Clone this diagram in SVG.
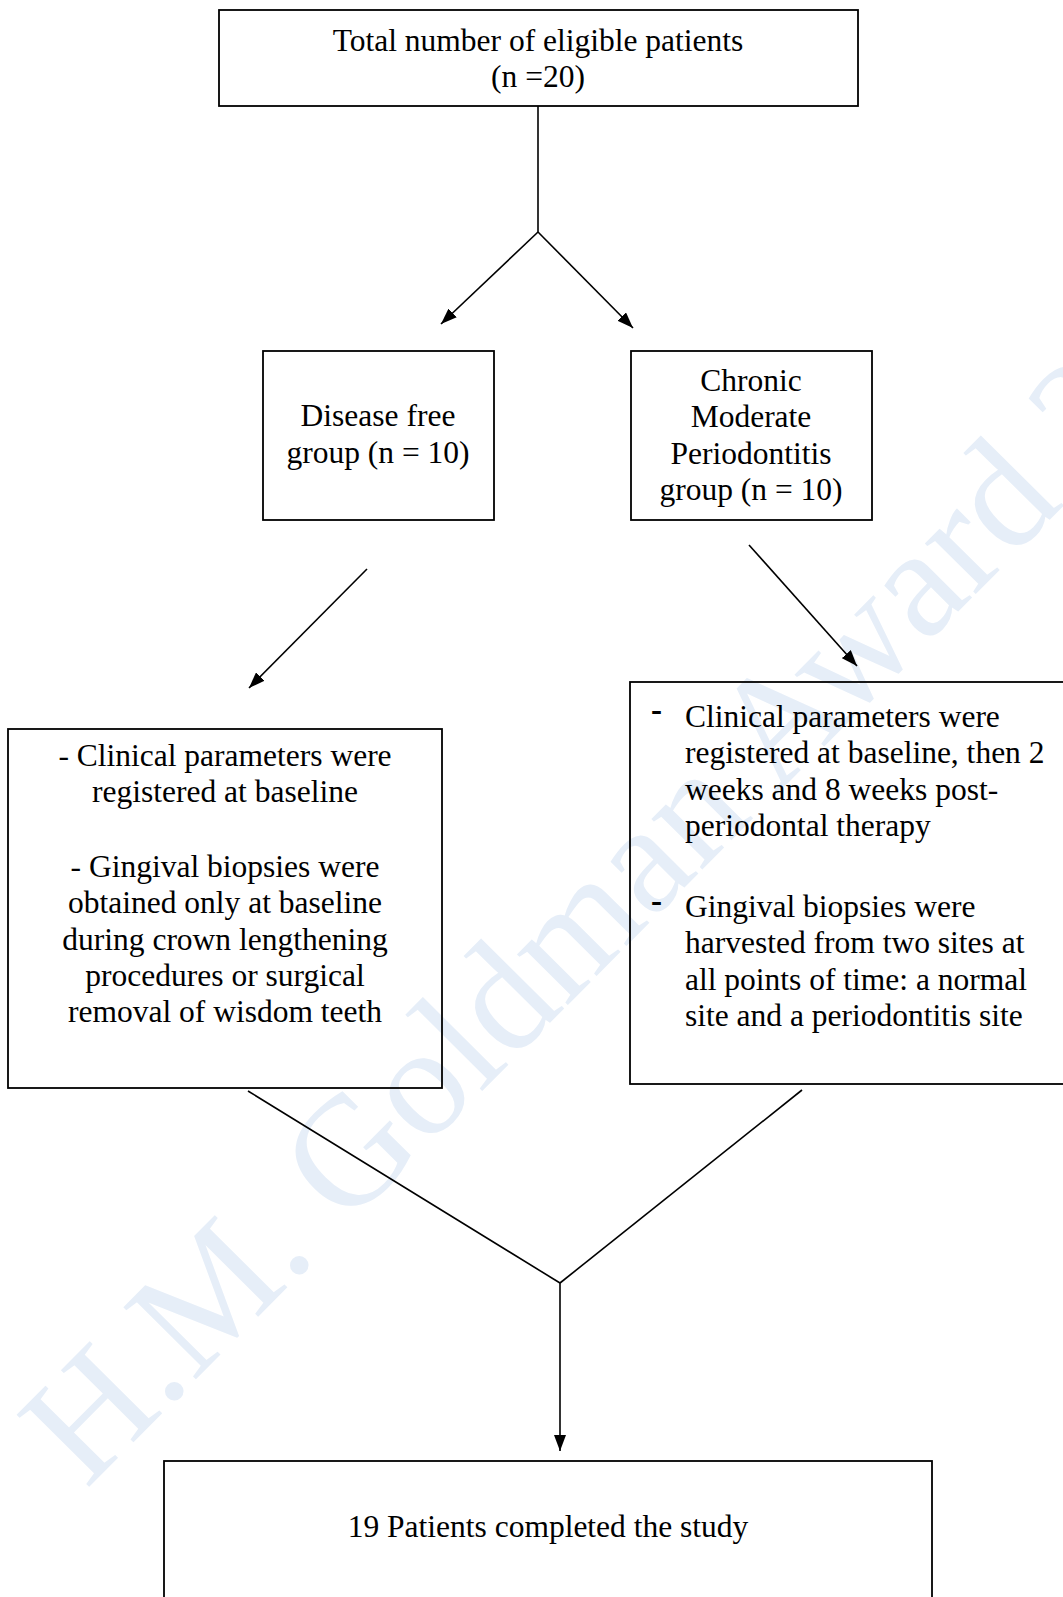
<svg xmlns="http://www.w3.org/2000/svg" width="1063" height="1597" viewBox="0 0 1063 1597">
<style>
  .box { fill: none; stroke: #000; stroke-width: 1.8; }
  .t { font-family: "Liberation Serif", "Times New Roman", serif; font-size: 31.5px; fill: #000; }
  .c { text-anchor: middle; }
  .dash { font-family: "Liberation Serif", "Times New Roman", serif; font-size: 33px; font-weight: bold; fill: #000; }
  .wm { font-family: "Liberation Serif", "Times New Roman", serif; font-size: 156px; fill: #e6eef8; }
  .ln { fill: none; stroke: #000; stroke-width: 1.6; }
</style>
<defs>
  <marker id="ah" viewBox="0 0 16 12" refX="16" refY="6" markerWidth="16" markerHeight="12" markerUnits="userSpaceOnUse" orient="auto">
    <path d="M0,0 L16,6 L0,12 z" fill="#000"/>
  </marker>
</defs>
<rect x="0" y="0" width="1063" height="1597" fill="#fff"/>
<g id="watermark">
  <text class="wm" x="0" y="0" transform="translate(86,1490) rotate(-45.2)">H.M. Goldman Award 2</text>
</g>
<g id="connectors">
  <line class="ln" x1="538" y1="106" x2="538" y2="232"/>
  <line class="ln" x1="538" y1="232" x2="441" y2="324" marker-end="url(#ah)"/>
  <line class="ln" x1="538" y1="232" x2="633" y2="328" marker-end="url(#ah)"/>
  <line class="ln" x1="367" y1="569" x2="249" y2="688" marker-end="url(#ah)"/>
  <line class="ln" x1="749" y1="545" x2="857" y2="666" marker-end="url(#ah)"/>
  <line class="ln" x1="248" y1="1091" x2="560" y2="1283"/>
  <line class="ln" x1="802" y1="1090" x2="560" y2="1283"/>
  <line class="ln" x1="560" y1="1283" x2="560" y2="1451" marker-end="url(#ah)"/>
</g>
<g id="node-total">
  <rect class="box" x="219" y="10" width="639" height="96"/>
  <text class="t c" x="538" y="51">Total number of eligible patients</text>
  <text class="t c" x="538" y="87">(n =20)</text>
</g>
<g id="node-disease-free">
  <rect class="box" x="263" y="351" width="231" height="169"/>
  <text class="t c" x="378" y="426">Disease free</text>
  <text class="t c" x="378" y="463">group (n = 10)</text>
</g>
<g id="node-periodontitis">
  <rect class="box" x="631" y="351" width="241" height="169"/>
  <text class="t c" x="751" y="391">Chronic</text>
  <text class="t c" x="751" y="427">Moderate</text>
  <text class="t c" x="751" y="464">Periodontitis</text>
  <text class="t c" x="751" y="500">group (n = 10)</text>
</g>
<g id="node-left-details">
  <rect class="box" x="8" y="729" width="434" height="359"/>
  <text class="t c" x="225" y="766">- Clinical parameters were</text>
  <text class="t c" x="225" y="802">registered at baseline</text>
  <text class="t c" x="225" y="877">- Gingival biopsies were</text>
  <text class="t c" x="225" y="913">obtained only at baseline</text>
  <text class="t c" x="225" y="950">during crown lengthening</text>
  <text class="t c" x="225" y="986">procedures or surgical</text>
  <text class="t c" x="225" y="1022">removal of wisdom teeth</text>
</g>
<g id="node-right-details">
  <rect class="box" x="630" y="682" width="460" height="402"/>
  <text class="dash" x="651" y="721">-</text>
  <text class="t" x="685" y="727">Clinical parameters were</text>
  <text class="t" x="685" y="763">registered at baseline, then 2</text>
  <text class="t" x="685" y="800">weeks and 8 weeks post-</text>
  <text class="t" x="685" y="836">periodontal therapy</text>
  <text class="dash" x="651" y="912">-</text>
  <text class="t" x="685" y="917">Gingival biopsies were</text>
  <text class="t" x="685" y="953">harvested from two sites at</text>
  <text class="t" x="685" y="990">all points of time: a normal</text>
  <text class="t" x="685" y="1026">site and a periodontitis site</text>
</g>
<g id="node-completed">
  <rect class="box" x="164" y="1461" width="768" height="160"/>
  <text class="t c" x="548" y="1537">19 Patients completed the study</text>
</g>
</svg>
